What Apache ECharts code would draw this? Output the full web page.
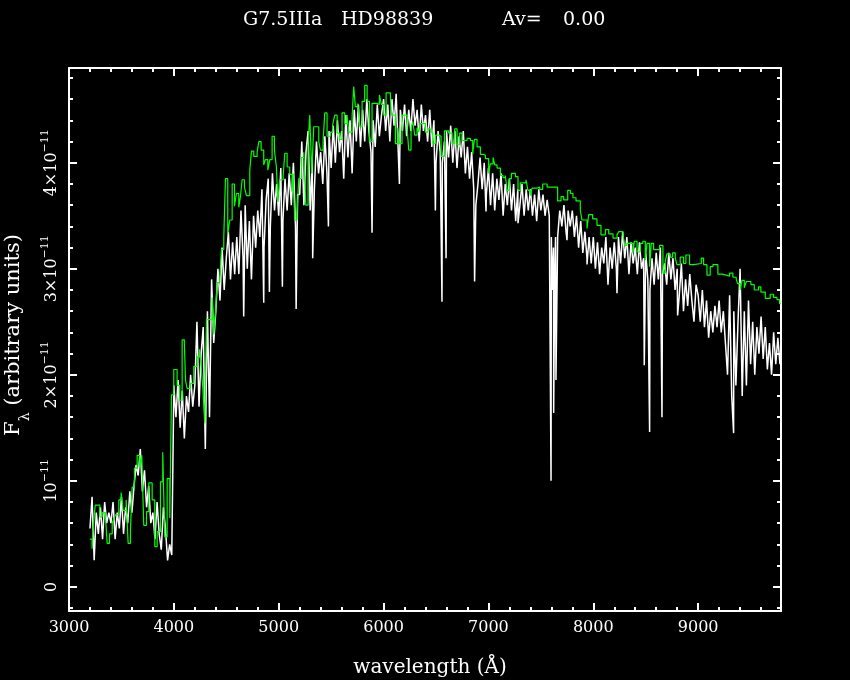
<!DOCTYPE html>
<html><head><meta charset="utf-8">
<script src="https://cdn.jsdelivr.net/npm/echarts@6/dist/echarts.min.js"></script>
<style>html,body{margin:0;padding:0;background:#000;}#c{width:850px;height:680px;}</style>
</head><body><div id="c"></div>
<script>
// ---- axis ranges / ticks (flux in units of 1e-11) ----
const xMin = 3000, xMax = 9790;
const yMin = -0.228, yMax = 4.894;
const xMajorTicks = [3000, 4000, 5000, 6000, 7000, 8000, 9000];
const xTickLabels = ['3000', '4000', '5000', '6000', '7000', '8000', '9000'];
const xMinorTicks = [3200, 3400, 3600, 3800, 4200, 4400, 4600, 4800, 5200, 5400, 5600, 5800,
  6200, 6400, 6600, 6800, 7200, 7400, 7600, 7800, 8200, 8400, 8600, 8800, 9200, 9400, 9600];
const yMajorTicks = [0, 1, 2, 3, 4];
const yTickMain = ['0', '10', '2×10', '3×10', '4×10'];
const yTickExp = ['', '−11', '−11', '−11', '−11'];
const yMinorTicks = [-0.2, 0.2, 0.4, 0.6, 0.8, 1.2, 1.4, 1.6, 1.8, 2.2, 2.4, 2.6, 2.8,
  3.2, 3.4, 3.6, 3.8, 4.2, 4.4, 4.6, 4.8];

// ---- observed spectrum (white), sampled every 20 A from 3200 A ----
const whiteStart = 3200, whiteStep = 20;
const whiteFlux = [
  0.55, 0.85, 0.25, 0.7, 0.5, 0.75, 0.45, 0.8, 0.6, 0.7,
  0.6, 0.8, 0.45, 0.7, 0.55, 0.85, 0.5, 0.75, 0.6, 0.9,
  0.7, 0.95, 1.15, 1.05, 1.3, 0.9, 1.1, 0.75, 0.95, 0.6,
  0.7, 0.45, 0.8, 0.5, 0.35, 0.75, 0.55, 0.25, 0.4, 0.3,
  1.9, 1.6, 1.95, 1.5, 1.85, 1.4, 1.8, 1.65, 2.0, 1.7,
  1.9, 2.5, 1.7, 2.2, 2.45, 1.3, 2.6, 1.6, 2.9, 2.3,
  2.6, 3.0, 2.7, 3.2, 2.8, 3.1, 3.35, 2.9, 3.25, 2.95,
  3.3, 2.95, 3.55, 3.1, 3.6, 3.0, 3.45, 2.9, 3.5, 3.2,
  3.55, 3.3, 3.75, 3.2, 3.65, 3.85, 3.4, 3.9, 3.55, 3.8,
  3.5, 3.95, 3.45, 3.85, 3.55, 3.9, 3.6, 4.0, 3.4, 3.7,
  3.7, 4.2, 3.6, 4.1, 4.3, 3.55, 4.05, 3.75, 4.2, 3.9,
  4.1, 3.8, 4.25, 3.9, 4.3, 3.95, 4.35, 4.0, 4.4, 4.1,
  4.3, 3.85, 4.45, 4.05, 4.4, 3.9, 4.5, 4.2, 4.55, 4.15,
  4.5, 4.2, 4.6, 4.3, 4.1, 4.4, 4.15, 4.55, 4.25, 4.45,
  4.6, 4.3, 4.55, 4.2, 4.6, 4.35, 4.65, 4.1, 4.5, 4.3,
  4.55, 4.25, 4.5, 4.3, 4.6, 4.35, 4.5, 4.2, 4.55, 4.3,
  4.45, 4.2, 4.5, 4.15, 4.4, 4.0, 4.3, 4.1, 4.0, 4.2,
  4.3, 4.05, 4.35, 4.0, 4.3, 3.95, 4.25, 4.05, 4.3, 3.9,
  4.15, 3.85, 4.1, 3.75, 3.6, 3.8, 4.05, 3.75, 4.0, 3.7,
  3.95, 3.6, 3.9, 3.55, 3.85, 3.65, 3.9, 3.5, 3.8, 3.6,
  3.85, 3.55, 3.8, 3.45, 3.75, 3.6, 3.8, 3.5, 3.75, 3.55,
  3.75, 3.5, 3.7, 3.45, 3.75, 3.55, 3.7, 3.5, 3.65, 3.5,
  3.3, 3.2, 3.3, 3.3, 3.55, 3.4, 3.6, 3.35, 3.55, 3.4,
  3.55, 3.3, 3.5, 3.2, 3.45, 3.15, 3.35, 3.1, 3.3, 3.05,
  3.3, 3.0, 3.25, 2.95, 3.2, 3.05, 3.3, 2.85, 3.2, 3.0,
  3.25, 3.0, 3.3, 3.05, 3.35, 3.1, 3.3, 2.95, 3.25, 3.05,
  3.2, 2.95, 3.25, 3.0, 3.1, 3.15, 2.9, 2.8, 3.1, 2.85,
  3.15, 2.9, 3.2, 2.95, 3.05, 2.85, 3.15, 2.9, 3.1, 2.8,
  3.0, 2.75, 3.05, 2.6, 2.9, 2.65, 2.95, 2.7, 2.5, 2.85,
  2.75, 2.5, 2.8, 2.45, 2.7, 2.35, 2.6, 2.4, 2.65, 2.45,
  2.7, 2.4, 2.6, 2.3, 2.0, 2.75, 1.8, 2.6, 1.9, 2.5,
  3.0, 1.8, 2.6, 1.9, 2.7, 2.1, 2.5, 2.0, 2.45, 2.2,
  2.55, 2.15, 2.45, 2.05, 2.3, 2.0, 2.4, 2.1, 2.35, 2.1
];
// narrow absorption lines in the observed spectrum [wavelength, flux]
const whiteLines = [
  [4666, 2.55], [4857, 2.68], [4911, 2.78], [5035, 2.83], [5166, 2.62], [5324, 3.1],
  [5474, 3.4], [5890, 3.34], [6151, 3.8], [6494, 3.55], [6557, 2.69], [6596, 3.1],
  [6868, 2.88], [6977, 3.54], [7282, 3.43], [7597, 1.0], [7606, 2.8], [7622, 1.64],
  [7632, 2.9], [7644, 1.95], [7749, 3.27], [7940, 3.04], [8226, 2.77],
  [8486, 2.09], [8537, 1.46], [8655, 1.6], [8804, 2.56], [9338, 1.45]
];

// ---- reference spectrum (green), step bins: [left edge wavelength, flux] ----
const greenBins = [
  [3198, 0.45], [3220, 0.36], [3237, 0.63], [3250, 0.77], [3294, 0.66], [3316, 0.70], [3348, 0.66],
  [3364, 0.41], [3386, 0.50], [3412, 0.60], [3430, 0.65], [3443, 0.68], [3475, 0.82], [3497, 0.89],
  [3516, 0.72], [3545, 0.82], [3564, 0.41], [3586, 0.53], [3602, 0.94], [3624, 1.12], [3650, 1.24],
  [3675, 1.13], [3694, 1.24], [3713, 0.58], [3739, 0.71], [3761, 0.98], [3793, 0.82], [3818, 0.38],
  [3841, 0.52], [3872, 0.99], [3894, 1.27], [3913, 0.47], [3936, 1.02], [3961, 0.65], [3977, 1.81],
  [3999, 2.05], [4031, 1.90], [4056, 1.76], [4079, 2.33], [4100, 2.30], [4111, 1.95], [4127, 1.87],
  [4158, 1.92], [4190, 2.08], [4222, 2.17], [4244, 2.24], [4260, 2.08], [4276, 1.88], [4295, 1.54],
  [4311, 2.52], [4365, 2.73], [4381, 2.38], [4397, 2.58], [4413, 2.87], [4438, 2.91], [4454, 3.18],
  [4476, 3.29], [4492, 3.85], [4514, 3.33], [4533, 3.46], [4556, 3.80], [4578, 3.59], [4597, 3.71],
  [4619, 3.58], [4635, 3.68], [4651, 3.84], [4673, 3.77], [4692, 3.69], [4724, 3.93], [4740, 4.11],
  [4762, 4.06], [4794, 4.10], [4810, 4.20], [4832, 4.12], [4857, 3.98], [4873, 4.03], [4896, 3.93],
  [4915, 4.03], [4937, 4.25], [4959, 4.12], [4978, 3.96], [4991, 3.63], [5010, 3.84], [5042, 3.87],
  [5058, 4.09], [5080, 3.96], [5105, 3.89], [5128, 3.73], [5137, 3.90], [5153, 3.46], [5175, 3.52],
  [5191, 3.85], [5217, 4.05], [5239, 4.10], [5258, 3.60], [5280, 4.17], [5296, 4.45], [5315, 3.90],
  [5334, 4.34], [5382, 4.20], [5398, 4.12], [5423, 4.20], [5439, 4.47], [5461, 4.25], [5493, 4.29],
  [5515, 4.36], [5534, 4.45], [5557, 4.28], [5579, 4.22], [5604, 4.47], [5630, 4.37], [5652, 4.45],
  [5668, 4.29], [5700, 4.44], [5715, 4.72], [5731, 4.53], [5754, 4.56], [5773, 4.34], [5795, 4.58],
  [5820, 4.73], [5843, 4.58], [5865, 4.20], [5890, 4.56], [5938, 4.55], [5960, 4.64], [5979, 4.55],
  [6002, 4.45], [6024, 4.66], [6065, 4.62], [6075, 4.45], [6113, 4.18], [6135, 4.33], [6151, 4.18],
  [6176, 4.45], [6224, 4.33], [6240, 4.12], [6262, 4.33], [6278, 4.39], [6297, 4.26], [6319, 4.33],
  [6335, 4.29], [6351, 4.37], [6399, 4.29], [6424, 4.32], [6446, 4.29], [6469, 4.18], [6494, 4.26],
  [6526, 4.25], [6548, 4.06], [6580, 4.30], [6621, 4.28], [6653, 4.18], [6678, 4.32], [6701, 4.17],
  [6726, 4.28], [6748, 4.21], [6796, 4.23], [6828, 4.21], [6850, 4.08], [6866, 4.22], [6891, 4.15],
  [6923, 4.08], [6950, 4.07], [6971, 4.04], [7002, 3.90], [7018, 3.99], [7044, 4.05], [7060, 3.98],
  [7082, 3.95], [7114, 3.88], [7139, 3.86], [7161, 3.88], [7177, 3.74], [7199, 3.85], [7219, 3.90],
  [7257, 3.87], [7282, 3.74], [7304, 3.81], [7358, 3.84], [7377, 3.74], [7400, 3.69], [7416, 3.76],
  [7463, 3.77], [7489, 3.75], [7517, 3.80], [7559, 3.77], [7616, 3.77], [7660, 3.64], [7692, 3.68],
  [7718, 3.65], [7756, 3.74], [7781, 3.71], [7806, 3.67], [7835, 3.64], [7876, 3.55], [7892, 3.46],
  [7940, 3.38], [7956, 3.51], [7994, 3.47], [8035, 3.41], [8073, 3.32], [8115, 3.37], [8147, 3.33],
  [8188, 3.29], [8226, 3.32], [8242, 3.35], [8283, 3.32], [8299, 3.22], [8321, 3.24], [8379, 3.15],
  [8391, 3.26], [8417, 3.16], [8448, 3.24], [8473, 3.26], [8496, 3.08], [8512, 3.24], [8537, 3.02],
  [8553, 3.24], [8575, 3.18], [8632, 3.22], [8664, 2.96], [8686, 3.07], [8702, 3.14], [8734, 3.11],
  [8756, 3.15], [8782, 3.10], [8798, 3.04], [8829, 3.11], [8861, 3.05], [8883, 3.13], [8918, 3.04],
  [8956, 3.05], [9030, 3.10], [9052, 3.04], [9084, 2.94], [9115, 3.02], [9141, 3.04], [9188, 2.95],
  [9227, 2.94], [9268, 2.93], [9300, 2.96], [9331, 2.92], [9363, 2.90], [9376, 2.86], [9401, 2.80],
  [9417, 2.89], [9440, 2.82], [9459, 2.88], [9503, 2.85], [9535, 2.80], [9576, 2.83], [9598, 2.78],
  [9640, 2.72], [9687, 2.76], [9719, 2.73], [9751, 2.71], [9776, 2.67], [9790, 2.67]
];

// ---- text ----
const titleParts = [['G7.5IIIa', 243], ['HD98839', 341], ['Av=', 502], ['0.00', 563]];
const xName = 'wavelength (Å)';
const yNameRich = '{f|F}{s|λ}{t| (arbitrary units)}';

const whitePts = whiteFlux.map((v, i) => [whiteStart + i * whiteStep, v])
  .concat(whiteLines).sort((a, b) => a[0] - b[0]);

const FONT = 'DejaVu Serif';
const W = '#ffffff';
const chart = echarts.init(document.getElementById('c'), null, { renderer: 'canvas' });

function xAx(pos, ticks, len, showLine, showLabel) {
  return {
    type: 'value', min: xMin, max: xMax, position: pos, gridIndex: 0,
    axisLine: { show: showLine, onZero: false, lineStyle: { color: W, width: 2 } },
    axisTick: { show: true, inside: true, length: len, customValues: ticks, lineStyle: { color: W, width: 2 } },
    axisLabel: showLabel ? {
      show: true, customValues: xMajorTicks, margin: 9, color: W, fontFamily: FONT, fontSize: 16,
      formatter: (v) => xTickLabels[xMajorTicks.indexOf(v)]
    } : { show: false },
    splitLine: { show: false }, minorTick: { show: false }
  };
}
function yAx(pos, ticks, len, showLine, showLabel) {
  return {
    type: 'value', min: yMin, max: yMax, position: pos, gridIndex: 0,
    axisLine: { show: showLine, onZero: false, lineStyle: { color: W, width: 2 } },
    axisTick: { show: true, inside: true, length: len, customValues: ticks, lineStyle: { color: W, width: 2 } },
    axisLabel: showLabel ? {
      show: true, customValues: yMajorTicks, rotate: 90, margin: 9, color: W,
      fontFamily: FONT, fontSize: 16,
      formatter: (v) => {
        const i = yMajorTicks.indexOf(v);
        return yTickExp[i] ? '{b|' + yTickMain[i] + '}{s|' + yTickExp[i] + '}' : '{b|' + yTickMain[i] + '}';
      },
      rich: {
        b: { fontFamily: FONT, fontSize: 16, color: W, verticalAlign: 'bottom' },
        s: { fontFamily: FONT, fontSize: 11, color: W, verticalAlign: 'top', padding: [0, 0, 9, 0] }
      }
    } : { show: false },
    splitLine: { show: false }, minorTick: { show: false }
  };
}

const option = {
  backgroundColor: '#000000',
  animation: false,
  grid: { left: 69, top: 68, width: 712, height: 543, containLabel: false },
  xAxis: [
    xAx('bottom', xMajorTicks, 8, true, true),
    xAx('bottom', xMinorTicks, 4, false, false),
    xAx('top', xMajorTicks, 8, true, false),
    xAx('top', xMinorTicks, 4, false, false)
  ],
  yAxis: [
    yAx('left', yMajorTicks, 8, true, true),
    yAx('left', yMinorTicks, 4, false, false),
    yAx('right', yMajorTicks, 8, true, false),
    yAx('right', yMinorTicks, 4, false, false)
  ],
  series: [
    {
      type: 'line', name: 'observed', data: whitePts, xAxisIndex: 0, yAxisIndex: 0,
      symbol: 'none', showSymbol: false, clip: true, sampling: null,
      lineStyle: { color: W, width: 1.5 }, z: 2
    },
    {
      type: 'line', name: 'reference', data: greenBins, step: 'end', xAxisIndex: 0, yAxisIndex: 0,
      symbol: 'none', showSymbol: false, clip: true,
      lineStyle: { color: '#00ff00', width: 1.2 }, z: 3
    }
  ],
  graphic: titleParts.map(([t, x]) => ({
    type: 'text', left: x, top: 11,
    style: { text: t, fill: W, font: '19px "' + FONT + '"' }
  })).concat([
    {
      type: 'text', x: 430, y: 668,
      style: { text: xName, fill: W, font: '20px "' + FONT + '"', align: 'center', verticalAlign: 'middle' }
    },
    {
      type: 'text', x: 18, y: 335, rotation: Math.PI / 2,
      style: {
        text: yNameRich, fill: W, align: 'center', verticalAlign: 'middle',
        rich: {
          f: { fontFamily: FONT, fontSize: 21, fill: W, verticalAlign: 'top' },
          t: { fontFamily: FONT, fontSize: 21, fill: W, verticalAlign: 'top' },
          s: { fontFamily: FONT, fontSize: 14, fill: W, verticalAlign: 'top', padding: [15, 0, 0, 0] }
        }
      }
    }
  ])
};
chart.setOption(option);
</script>
</body></html>
